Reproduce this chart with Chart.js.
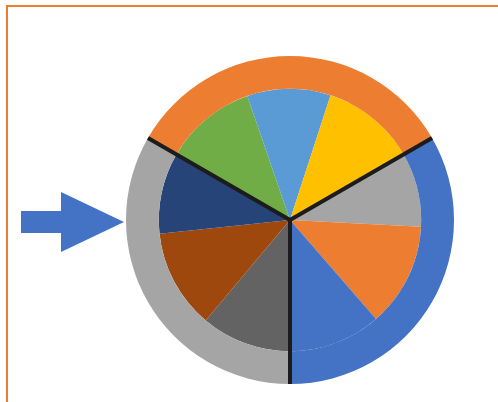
<!DOCTYPE html>
<html>
<head>
<meta charset="UTF-8">
<title>Pie</title>
<script src="https://cdn.jsdelivr.net/npm/chart.js"></script>
<style>
  body { margin: 0; background: #fff; width: 498px; height: 402px; overflow: hidden; position: relative; }
  .marco { position: absolute; left: 6px; top: 5px; width: 600px; height: 500px; border-top: 2px solid #ED7D31; border-left: 2px solid #ED7D31; }
  #grafico { position: absolute; left: 0; top: 0; }
</style>
</head>
<body>
<div class="marco"></div>
<canvas id="grafico" width="498" height="402"></canvas>
<script>
  // outer ring: three groups
  let grupos = ['A', 'B', 'C'];
  let grupoValores = [120, 120, 120];
  let grupoColores = ['#ED7D31', '#4472C4', '#A5A5A5'];

  // inner pie: nine slices
  let partes = ['1', '2', '3', '4', '5', '6', '7', '8', '9'];
  let parteValores = [41, 37, 42, 33, 46, 41, 40, 44, 36];
  let parteColores = ['#70AD47', '#5B9BD5', '#FFC000', '#A5A5A5', '#ED7D31', '#4472C4', '#636363', '#9E480E', '#264478'];

  const separadores = {
    id: 'separadores',
    afterDatasetsDraw(chart) {
      const ctx = chart.ctx;
      const arcs = chart.getDatasetMeta(0).data;
      ctx.save();
      ctx.strokeStyle = '#1c1c1c';
      ctx.lineWidth = 4;
      arcs.forEach(a => {
        ctx.beginPath();
        ctx.moveTo(a.x, a.y);
        ctx.lineTo(a.x + Math.cos(a.startAngle) * a.outerRadius, a.y + Math.sin(a.startAngle) * a.outerRadius);
        ctx.stroke();
      });
      // arrow pointing at the pie
      const c = arcs[0];
      const tip = c.x - c.outerRadius - 2;
      const y = c.y + 2;
      ctx.fillStyle = '#4472C4';
      ctx.beginPath();
      ctx.moveTo(tip - 103, y - 11);
      ctx.lineTo(tip - 63, y - 11);
      ctx.lineTo(tip - 63, y - 30);
      ctx.lineTo(tip, y);
      ctx.lineTo(tip - 63, y + 30);
      ctx.lineTo(tip - 63, y + 11);
      ctx.lineTo(tip - 103, y + 11);
      ctx.closePath();
      ctx.fill();
      ctx.restore();
    }
  };

  let chart = new Chart(document.getElementById('grafico').getContext('2d'), {
    type: 'doughnut',
    data: {
      labels: partes,
      datasets: [
        { label: 'grupos', data: grupoValores, backgroundColor: grupoColores, borderWidth: 0, weight: 1 },
        { label: 'partes', data: parteValores, backgroundColor: parteColores, borderWidth: 0, weight: 4 }
      ]
    },
    options: {
      responsive: false,
      animation: false,
      cutout: 0,
      rotation: -60,
      layout: { padding: { left: 126, right: 44, top: 56, bottom: 18 } },
      plugins: { legend: { display: false }, tooltip: { enabled: false } }
    },
    plugins: [separadores]
  });
</script>
</body>
</html>
